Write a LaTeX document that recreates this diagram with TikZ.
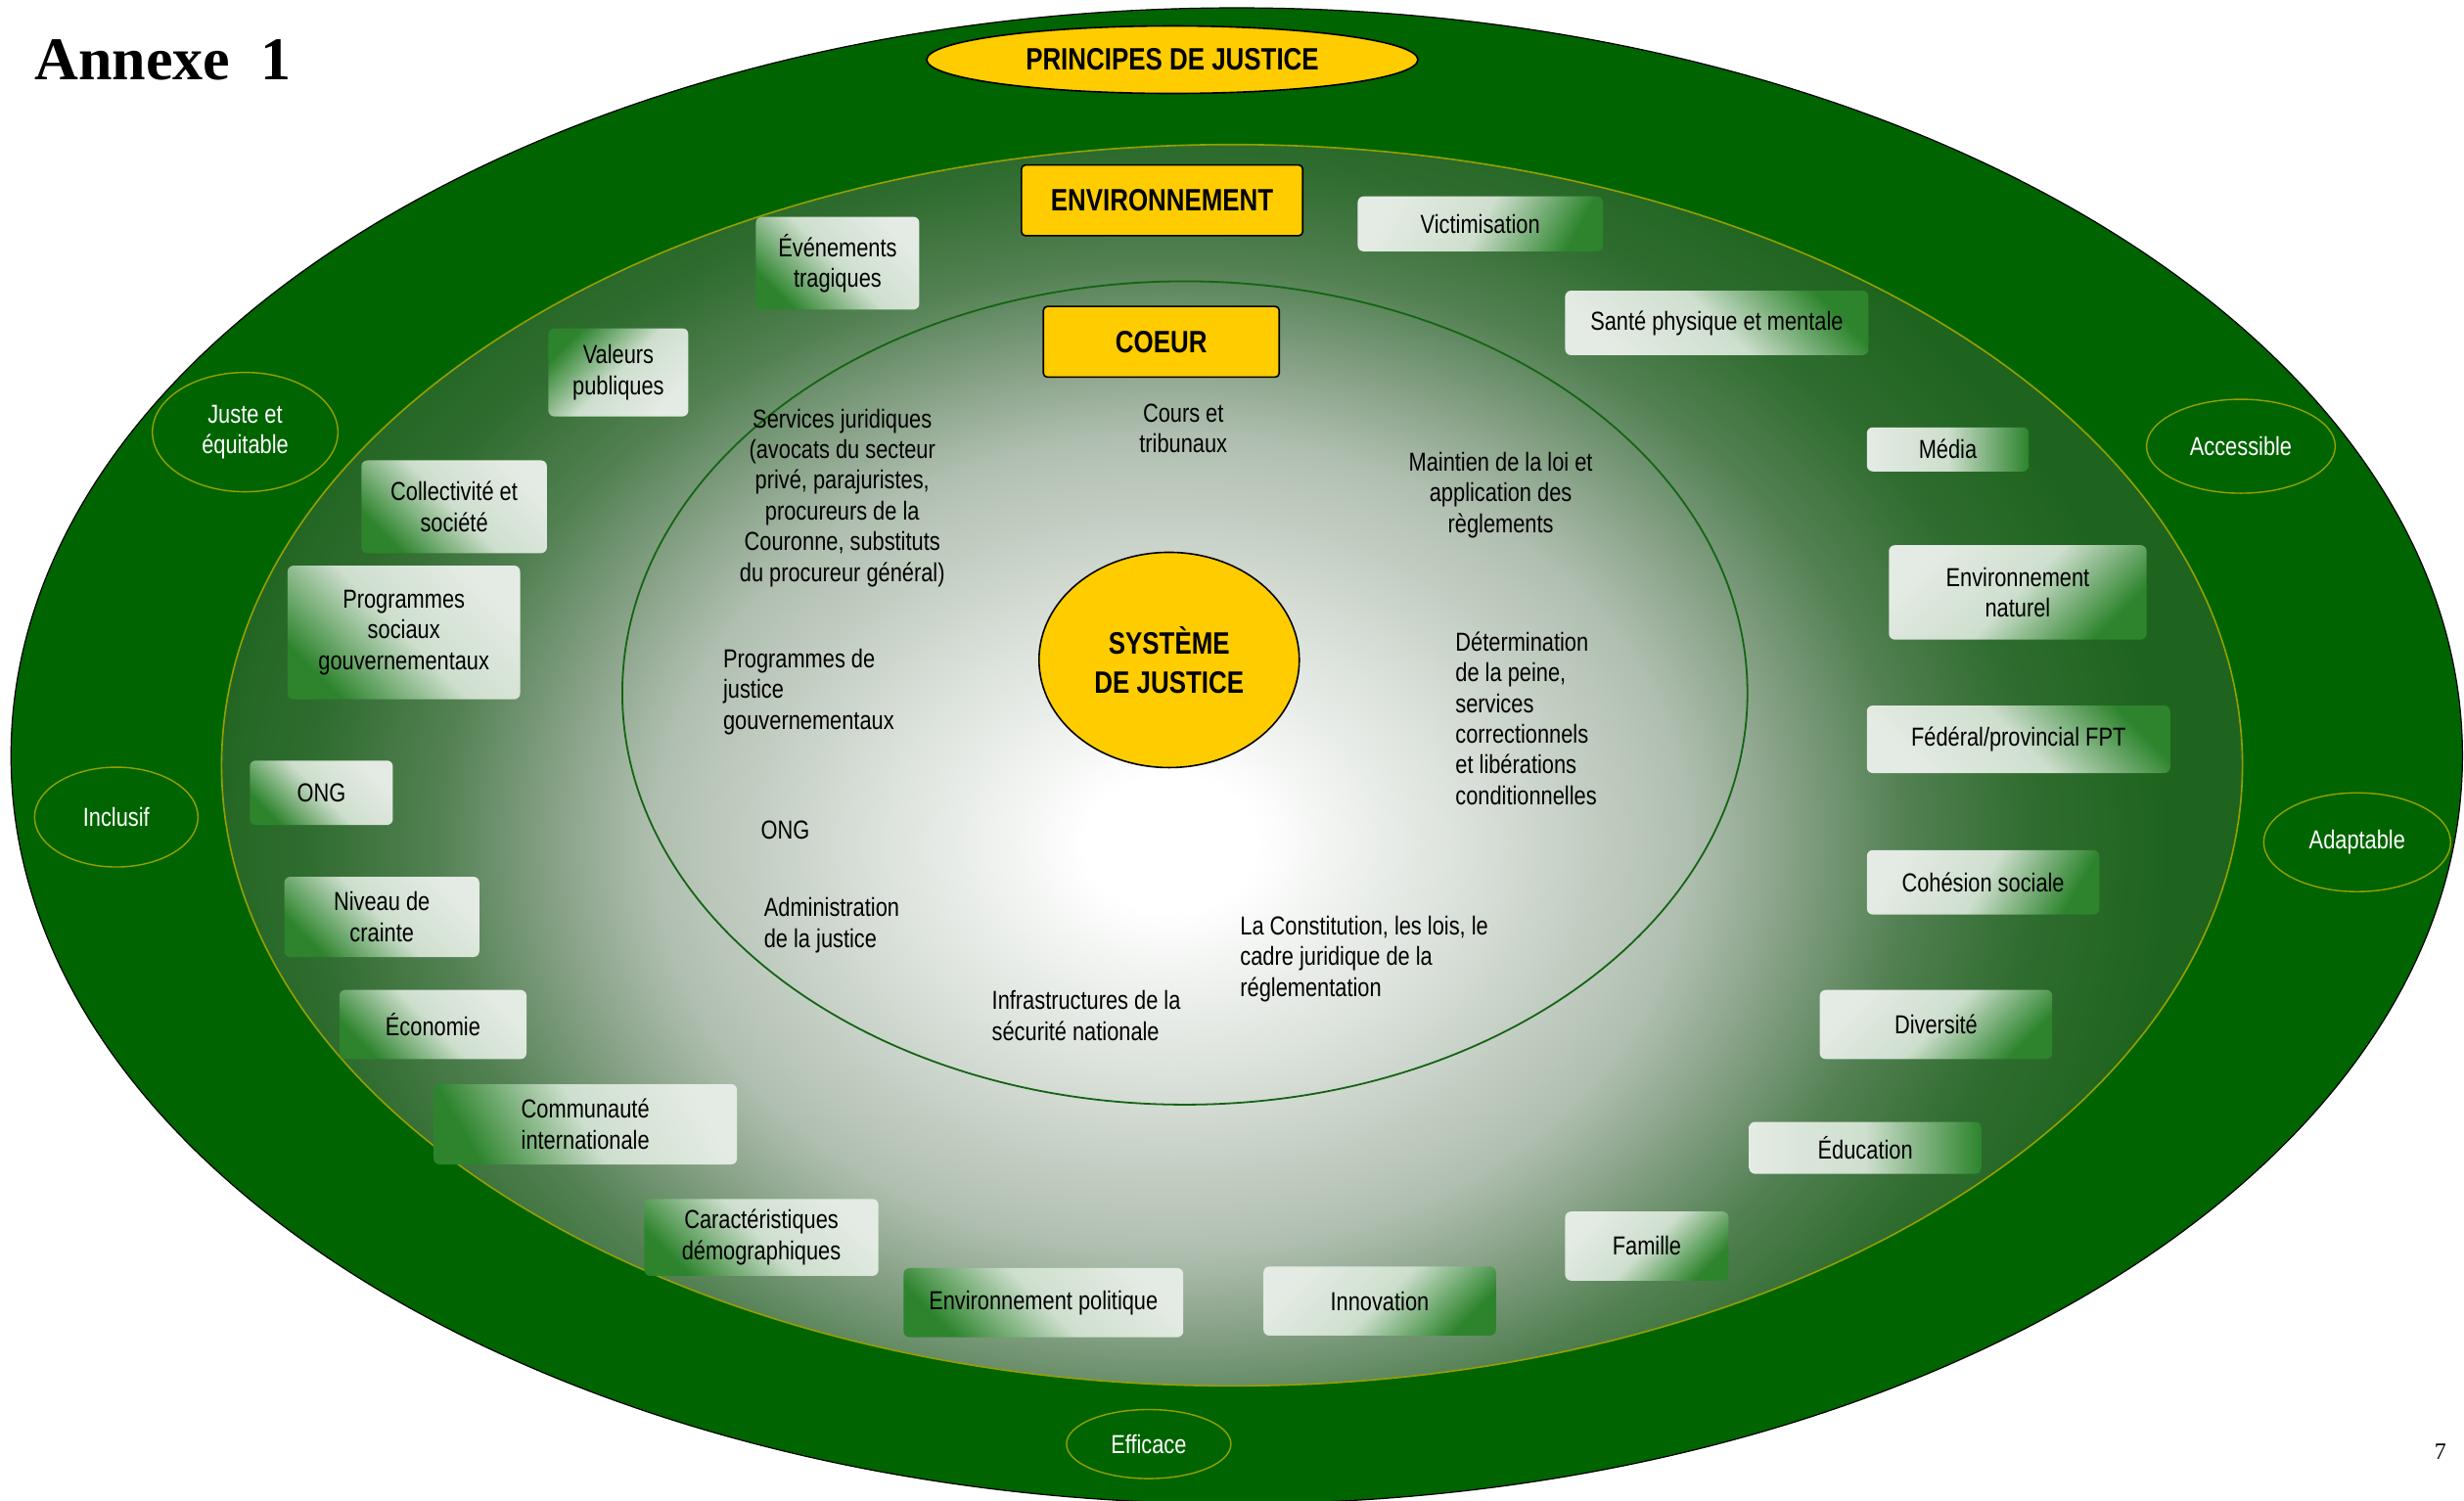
\documentclass[tikz,border=0pt]{standalone}
\usepackage{fontspec}
\setmainfont{Liberation Sans}[FakeStretch=0.82]
\newfontfamily\annexfont{Liberation Serif}
\usetikzlibrary{shapes,calc}

\definecolor{ringgreen}{RGB}{0,100,0}
\definecolor{olivel}{RGB}{150,160,0}
\definecolor{coregreen}{RGB}{20,100,20}
\definecolor{justiceyellow}{RGB}{255,204,0}
\definecolor{boxlight}{RGB}{228,235,228}
\definecolor{boxgreen}{RGB}{45,132,45}
\definecolor{shadeA}{RGB}{215,222,215}
\definecolor{shadeB}{RGB}{175,190,175}
\definecolor{shadeC}{RGB}{140,165,140}
\definecolor{shadeD}{RGB}{82,128,82}
\definecolor{shadeE}{RGB}{47,108,47}
\definecolor{shadeF}{RGB}{30,100,30}

\pgfdeclareradialshading{environment}{\pgfpoint{0bp}{0bp}}{%
  color(0bp)=(white); color(3bp)=(white); color(11bp)=(shadeA);
  color(18.2bp)=(shadeB); color(21.2bp)=(shadeC); color(25.8bp)=(shadeD);
  color(30.3bp)=(shadeE); color(34.9bp)=(shadeF); color(60bp)=(shadeF)}

\tikzset{
	factor/.style={
		rectangle, rounded corners=3pt, inner sep=0pt, align=center,
		top color=boxlight, bottom color=boxgreen, middle color=boxlight!88!boxgreen
	},
	%
	keybox/.style={
		rectangle, rounded corners=2pt, inner sep=0pt, align=center,
		draw=black, line width=0.8pt, fill=justiceyellow,
		font=\bfseries\fontsize{15.8}{20}\selectfont
	},
	%
	principle/.style={
		ellipse, draw=olivel, line width=0.7pt, inner sep=0pt,
		text=white, align=center
	},
	%
	corelabel/.style={
		inner sep=0pt, align=left, anchor=base west
	}
}

\begin{document}
\begin{tikzpicture}[x=0.803pt, y=-0.803pt,
    every node/.style={font=\fontsize{13.3}{15.7}\selectfont}]
    \useasboundingbox (0,0) rectangle (1568,955);
    % the three rings
    \fill[ringgreen, draw=black, line width=0.6pt] (787,481) ellipse (780 and 476);
    % shading stretched by hand onto the environment ellipse
    \begin{scope}
        \clip (784,487) ellipse (643 and 395);
        \pgftransformshift{\pgfpointxy{745}{537}}
        \pgftransformxscale{14.53}
        \pgftransformyscale{11.48}
        \pgflowlevelsynccm
        \pgfuseshading{environment}
    \end{scope}
    \draw[olivel, line width=0.8pt] (784,487) ellipse (643 and 395);
    \draw[coregreen, line width=0.9pt] (754,441) ellipse (358 and 262);

    \node(annexe)[inner sep=0pt, anchor=base west, font=\annexfont\bfseries\fontsize{31}{36}\selectfont] at (22,51) {Annexe\ \ 1};
    \node(page)[inner sep=0pt, anchor=base, font=\annexfont\fontsize{12}{14}\selectfont] at (1553,929) {7};

    % yellow keys
    \node(principes)[keybox, ellipse, minimum width=251pt, minimum height=34.5pt] at (746,38) {PRINCIPES DE JUSTICE};
    \node(environnement)[keybox, minimum width=143.7pt, minimum height=36.1pt] at (739.5,127.5) {ENVIRONNEMENT};
    \node(coeur)[keybox, minimum width=120.5pt, minimum height=36.1pt] at (739,217.5) {COEUR};
    \node(systeme)[keybox, ellipse, minimum width=133pt, minimum height=110pt] at (744,420) {SYST\`EME\\DE JUSTICE};

    % principles in the outer ring
    \node(juste)[principle, minimum width=94.8pt, minimum height=61pt] at (156,275) {Juste et\\\'equitable};
    \node(inclusif)[principle, minimum width=83.5pt, minimum height=51pt] at (74,520) {Inclusif};
    \node(accessible)[principle, minimum width=96.4pt, minimum height=48pt] at (1426,284) {Accessible};
    \node(adaptable)[principle, minimum width=95.5pt, minimum height=50.5pt] at (1500,536) {Adaptable};
    \node(efficace)[principle, minimum width=84pt, minimum height=35.3pt] at (731,919) {Efficace};

    % environment factors, left
    \node(evenements)[factor, minimum width=83.5pt, minimum height=47.4pt, shading angle=-45] at (533,167.5) {\'Ev\'enements\\tragiques};
    \node(valeurs)[factor, minimum width=71.5pt, minimum height=45pt, shading angle=-135] at (393.5,237) {Valeurs\\publiques};
    \node(collectivite)[factor, minimum width=94.8pt, minimum height=47.4pt, shading angle=-45] at (289,322.5) {Collectivit\'e et\\soci\'et\'e};
    \node(progsociaux)[factor, minimum width=118.8pt, minimum height=68.3pt, shading angle=-45] at (257,402.5) {Programmes\\sociaux\\gouvernementaux};
    \node(ongbox)[factor, minimum width=73.1pt, minimum height=32.9pt, shading angle=-45] at (204.5,504.5) {ONG};
    \node(crainte)[factor, minimum width=99.6pt, minimum height=41pt, shading angle=-45] at (243,583.5) {Niveau de\\crainte};
    \node(economie)[factor, minimum width=95.6pt, minimum height=35.3pt, shading angle=-45] at (275.5,652) {\'Economie};
    \node(communaute)[factor, minimum width=155pt, minimum height=41pt, shading angle=-60] at (372.5,715.5) {Communaut\'e\\internationale};
    \node(demographie)[factor, minimum width=119.6pt, minimum height=39.3pt, shading angle=-45] at (484.5,787.5) {Caract\'eristiques\\d\'emographiques};
    \node(politique)[factor, minimum width=142.9pt, minimum height=35.3pt, shading angle=-45] at (664,829) {Environnement politique};
    \node(innovation)[factor, minimum width=118.8pt, minimum height=35.3pt, shading angle=45] at (878,828) {Innovation};

    % environment factors, right
    \node(victim)[factor, minimum width=125.3pt, minimum height=28.1pt, shading angle=60] at (942,142.5) {Victimisation};
    \node(sante)[factor, minimum width=155pt, minimum height=32.9pt, shading angle=135] at (1092.5,205.5) {Sant\'e physique et mentale};
    \node(media)[factor, minimum width=82.7pt, minimum height=22.5pt, shading angle=90] at (1239.5,286) {M\'edia};
    \node(naturel)[factor, minimum width=131.7pt, minimum height=48.2pt, shading angle=45] at (1284,377) {Environnement\\naturel};
    \node(federal)[factor, minimum width=155pt, minimum height=34.5pt, shading angle=135] at (1284.5,470.5) {F\'ed\'eral/provincial FPT};
    \node(cohesion)[factor, minimum width=118.8pt, minimum height=32.9pt, shading angle=60] at (1262,561.5) {Coh\'esion sociale};
    \node(diversite)[factor, minimum width=118.8pt, minimum height=35.3pt, shading angle=45] at (1232,652) {Diversit\'e};
    \node(education)[factor, minimum width=118.8pt, minimum height=26.5pt, shading angle=90] at (1187,730.5) {\'Education};
    \node(famille)[factor, minimum width=83.5pt, minimum height=35.3pt, shading angle=45] at (1048,793) {Famille};

    % core of the justice system (base = last line)
    \node(services)[corelabel, align=center, anchor=base] at (536,370) {Services juridiques\\(avocats du secteur\\priv\'e, parajuristes,\\procureurs de la\\Couronne, substituts\\du procureur g\'en\'eral)};
    \node(cours)[corelabel, align=center, anchor=base] at (753,288) {Cours et\\tribunaux};
    \node(maintien)[corelabel, align=center, anchor=base] at (955,339) {Maintien de la loi et\\application des\\r\`eglements};
    \node(progjustice)[corelabel] at (460,464) {Programmes de\\justice\\gouvernementaux};
    \node(peine)[corelabel] at (926,512) {D\'etermination\\de la peine,\\services\\correctionnels\\et lib\'erations\\conditionnelles};
    \node(ong)[corelabel] at (484,534) {ONG};
    \node(administration)[corelabel] at (486,603) {Administration\\de la justice};
    \node(securite)[corelabel] at (631,662) {Infrastructures de la\\s\'ecurit\'e nationale};
    \node(constitution)[corelabel] at (789,634) {La Constitution, les lois, le\\cadre juridique de la\\r\'eglementation};
\end{tikzpicture}
\end{document}
